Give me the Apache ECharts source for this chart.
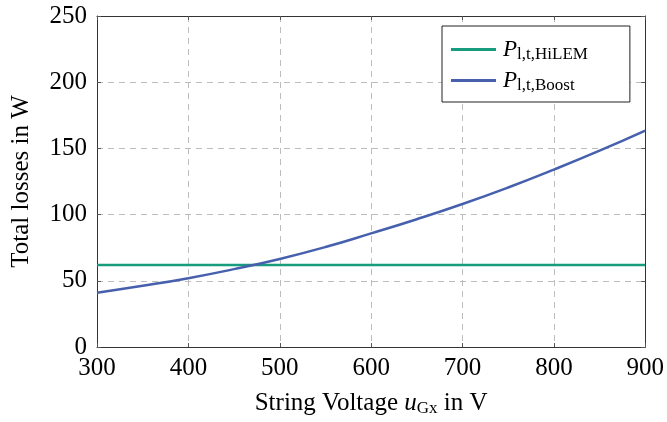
<!DOCTYPE html>
<html>
<head>
<meta charset="utf-8">
<script src="https://cdn.jsdelivr.net/npm/echarts@6/dist/echarts.min.js"></script>
<style>
  html, body { margin: 0; padding: 0; background: #fff; }
  #chart { width: 667px; height: 422px; }
</style>
</head>
<body>
<div id="chart"></div>
<script>
// string voltage in V
const voltage = [300, 350, 400, 450, 500, 550, 600, 650, 700, 750, 800, 850, 900]
// total losses in W
const lossHiLEM = [62, 62, 62, 62, 62, 62, 62, 62, 62, 62, 62, 62, 62]
const lossBoost = [41, 46.2, 52, 58.8, 66.5, 75.5, 85.8, 96.5, 108, 120.5, 134, 148.3, 163.5]
const xTicks = [300, 400, 500, 600, 700, 800, 900]
const yTicks = [0, 50, 100, 150, 200, 250]

const font = "'Liberation Serif', 'DejaVu Serif', serif"
const green = '#179c7d'
const blue = '#4660ad'

let myEchart = echarts.init(document.getElementById('chart'))

const subRich = {
  p: { fontFamily: font, fontStyle: 'italic', fontSize: 23, color: '#000' },
  s: { fontFamily: font, fontSize: 17, color: '#000', padding: [10, 0, 0, 0] },
  t: { fontFamily: font, fontSize: 25, color: '#000' },
  u: { fontFamily: font, fontStyle: 'italic', fontSize: 25, color: '#000' },
  g: { fontFamily: font, fontSize: 17, color: '#000', padding: [11, 0, 0, 0] }
}

const tickLabel = { fontFamily: font, fontSize: 25, color: '#000' }
const splitLine = { show: true, lineStyle: { color: '#bdbdbd', type: [6, 5], width: 1 } }
const boxLine = { show: true, onZero: false, lineStyle: { color: '#333', width: 1 } }
const inTick = { show: true, inside: true, length: 4, lineStyle: { color: '#555' } }

myEchart.setOption({
  animation: false,
  grid: { left: 97, right: 21, top: 16, bottom: 73 },
  legend: {
    orient: 'vertical',
    left: 442,
    top: 26,
    padding: [12, 42, 8, 9],
    itemGap: 6,
    itemWidth: 45,
    itemHeight: 3,
    icon: 'rect',
    borderColor: '#222',
    borderWidth: 1,
    backgroundColor: '#fff',
    formatter: function (name) {
      return name === 'HiLEM' ? '{p|P}{s|l,t,HiLEM}' : '{p|P}{s|l,t,Boost}'
    },
    textStyle: { rich: subRich, padding: [0, 0, 0, 2] }
  },
  xAxis: [
    {
      type: 'value',
      min: 300,
      max: 900,
      interval: 100,
      name: '{t|String Voltage }{u|u}{g|Gx}{t| in V}',
      nameLocation: 'middle',
      nameGap: 42,
      nameTextStyle: { rich: subRich },
      axisLine: boxLine,
      axisTick: inTick,
      axisLabel: Object.assign({ margin: 9, customValues: xTicks }, tickLabel),
      splitLine: splitLine
    },
    {
      type: 'value',
      position: 'top',
      min: 300,
      max: 900,
      interval: 100,
      axisLine: boxLine,
      axisTick: inTick,
      axisLabel: { show: false },
      splitLine: { show: false }
    }
  ],
  yAxis: [
    {
      type: 'value',
      min: 0,
      max: 250,
      interval: 50,
      name: 'Total losses in W',
      nameLocation: 'middle',
      nameGap: 63,
      nameTextStyle: { fontFamily: font, fontSize: 25, color: '#000' },
      axisLine: boxLine,
      axisTick: inTick,
      axisLabel: Object.assign({ margin: 10, customValues: yTicks }, tickLabel),
      splitLine: splitLine
    },
    {
      type: 'value',
      position: 'right',
      min: 0,
      max: 250,
      interval: 50,
      axisLine: boxLine,
      axisTick: inTick,
      axisLabel: { show: false },
      splitLine: { show: false }
    }
  ],
  series: [
    {
      name: 'HiLEM',
      type: 'line',
      showSymbol: false,
      symbol: 'none',
      color: green,
      lineStyle: { color: green, width: 2.5 },
      data: voltage.map((v, i) => [v, lossHiLEM[i]])
    },
    {
      name: 'Boost',
      type: 'line',
      showSymbol: false,
      symbol: 'none',
      smooth: true,
      color: blue,
      lineStyle: { color: blue, width: 2.5 },
      data: voltage.map((v, i) => [v, lossBoost[i]])
    }
  ]
})
</script>
</body>
</html>
